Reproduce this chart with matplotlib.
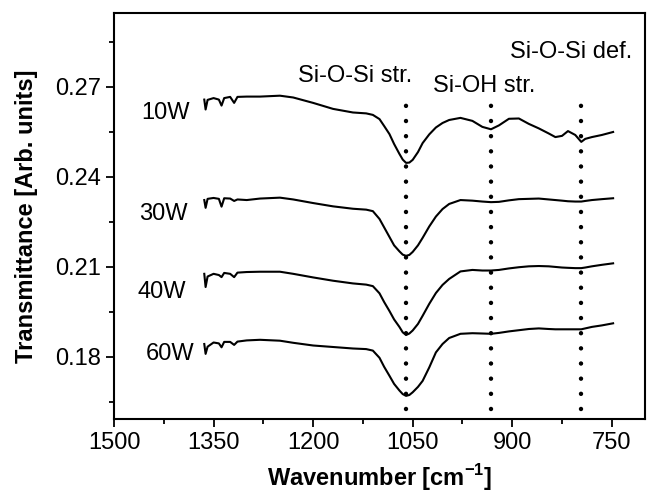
import matplotlib
matplotlib.use('Agg')
import matplotlib.pyplot as plt
import matplotlib.ticker as ticker

plt.rcParams['font.family'] = ['Liberation Sans', 'DejaVu Sans']
plt.rcParams['mathtext.fontset'] = 'custom'
plt.rcParams['mathtext.bf'] = 'Liberation Sans:bold'
plt.rcParams['mathtext.rm'] = 'Liberation Sans'

# wavenumber grid shared by all spectra
wavenumber = [1364, 1362, 1359, 1350, 1342, 1338, 1334, 1325, 1319, 1314,
              1300, 1280, 1250, 1230, 1200, 1170, 1140,
              1120, 1110, 1100, 1093, 1085, 1078, 1070, 1065, 1060, 1055,
              1050, 1042, 1035, 1025, 1015, 1005, 995,
              978, 960, 945, 932, 920, 905, 890, 875, 860, 845,
              835, 825, 816, 805, 796, 790, 780, 765, 748]

t_10w = [0.2658, 0.2625, 0.2657, 0.2663, 0.2658, 0.2638, 0.2663, 0.2667, 0.2647, 0.2667,
         0.2668, 0.2668, 0.2671, 0.2665, 0.2647, 0.2627, 0.2615,
         0.2612, 0.2607, 0.2593, 0.2570, 0.2543, 0.2510, 0.2477, 0.2458, 0.2447, 0.2448,
         0.2457, 0.2483, 0.2513, 0.2542, 0.2565, 0.2580, 0.2590,
         0.2597, 0.2587, 0.2567, 0.2559, 0.2572, 0.2594, 0.2595, 0.2577, 0.2562, 0.2545,
         0.2533, 0.2537, 0.2553, 0.2540, 0.2517, 0.2527, 0.2533, 0.2540, 0.2550]

t_30w = [0.2323, 0.2297, 0.2327, 0.2330, 0.2327, 0.2301, 0.2329, 0.2328, 0.2320, 0.2325,
         0.2323, 0.2328, 0.2331, 0.2325, 0.2313, 0.2302, 0.2294,
         0.2291, 0.2286, 0.2260, 0.2232, 0.2200, 0.2172, 0.2152, 0.2141, 0.2137, 0.2140,
         0.2150, 0.2172, 0.2197, 0.2235, 0.2268, 0.2293, 0.2310,
         0.2323, 0.2321, 0.2318, 0.2316, 0.2317, 0.2322, 0.2326, 0.2327, 0.2328, 0.2325,
         0.2323, 0.2321, 0.2319, 0.2318, 0.2318, 0.2320, 0.2323, 0.2326, 0.2329]

t_40w = [0.2077, 0.2033, 0.2068, 0.2077, 0.2073, 0.2066, 0.2080, 0.2077, 0.2066, 0.2081,
         0.2083, 0.2084, 0.2084, 0.2077, 0.2065, 0.2054, 0.2045,
         0.2041, 0.2036, 0.2012, 0.1983, 0.1953, 0.1925, 0.1900, 0.1882, 0.1873, 0.1878,
         0.1888, 0.1910, 0.1937, 0.1977, 0.2013, 0.2040, 0.2060,
         0.2085, 0.2090, 0.2088, 0.2088, 0.2090, 0.2095, 0.2099, 0.2102, 0.2103, 0.2102,
         0.2100, 0.2098, 0.2097, 0.2096, 0.2096, 0.2098, 0.2102, 0.2107, 0.2112]

t_60w = [0.1843, 0.1810, 0.1834, 0.1848, 0.1845, 0.1832, 0.1850, 0.1850, 0.1840, 0.1851,
         0.1855, 0.1857, 0.1854, 0.1847, 0.1838, 0.1833, 0.1828,
         0.1826, 0.1821, 0.1797, 0.1767, 0.1737, 0.1710, 0.1688, 0.1676, 0.1670, 0.1673,
         0.1682, 0.1700, 0.1720, 0.1765, 0.1815, 0.1843, 0.1863,
         0.1877, 0.1879, 0.1878, 0.1877, 0.1880, 0.1885, 0.1889, 0.1893, 0.1895, 0.1893,
         0.1892, 0.1892, 0.1892, 0.1892, 0.1892, 0.1895, 0.1900, 0.1905, 0.1912]

# curve labels and where they sit
power_labels = ['10W', '30W', '40W', '60W']
label_x = [1423, 1425, 1428, 1416]
label_y = [0.2613, 0.2277, 0.2017, 0.1810]

# band assignments
band_pos = [1060, 932, 796]
band_names = ['Si-O-Si str.', 'Si-OH str.', 'Si-O-Si def.']
band_text_x = [1137, 942, 811]
band_text_y = [0.2735, 0.2704, 0.2818]

fig = plt.figure(figsize=(6.53, 4.97), dpi=100)
ax = fig.add_axes([0.1746, 0.157, 0.8131, 0.817])

for t in [t_10w, t_30w, t_40w, t_60w]:
    ax.plot(wavenumber, t, color='black', lw=1.5)

for name, x, y in zip(power_labels, label_x, label_y):
    ax.text(x, y, name, fontsize=17, ha='center', va='center')

for x in band_pos:
    ax.plot([x, x], [0.1625, 0.2665], color='black', lw=3.2,
            linestyle=(0, (0.01, 3.4)), dash_capstyle='round')

for name, x, y in zip(band_names, band_text_x, band_text_y):
    ax.text(x, y, name, fontsize=17, ha='center', va='center')

ax.set_xlim(1500, 700)
ax.set_ylim(0.1593, 0.2947)
ax.xaxis.set_major_locator(ticker.MultipleLocator(150))
ax.xaxis.set_minor_locator(ticker.MultipleLocator(75))
ax.yaxis.set_major_locator(ticker.FixedLocator([0.18, 0.21, 0.24, 0.27]))
ax.yaxis.set_minor_locator(ticker.FixedLocator([0.165, 0.195, 0.225, 0.255, 0.285]))
ax.yaxis.set_major_formatter(ticker.FormatStrFormatter('%.2f'))

ax.tick_params(which='major', direction='out', length=6, width=1.3, labelsize=17)
ax.tick_params(which='minor', direction='out', length=3.5, width=1.3)
for s in ax.spines.values():
    s.set_linewidth(1.5)

ax.set_xlabel(r'Wavenumber [cm$^{\mathbf{-1}}$]', fontsize=17, fontweight='bold', labelpad=6)
ax.set_ylabel('Transmittance [Arb. units]', fontsize=17, fontweight='bold', labelpad=12)

fig.savefig('out.png', dpi=100)
